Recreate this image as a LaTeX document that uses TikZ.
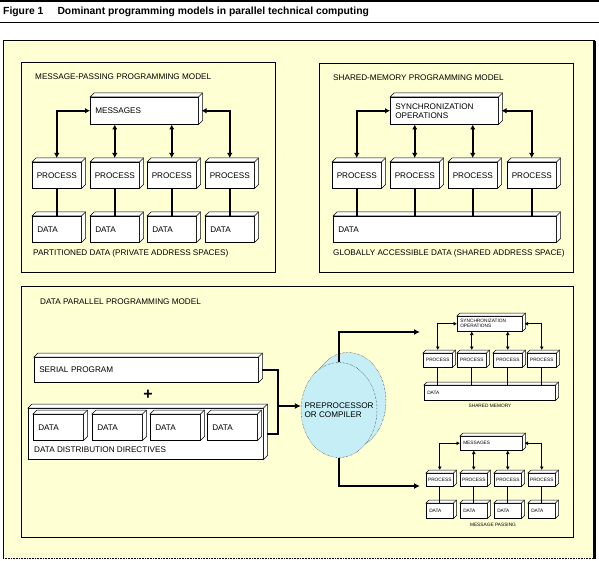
\documentclass[tikz,border=0pt]{standalone}
\usepackage{fontspec}
\setmainfont{Liberation Sans}
\usetikzlibrary{arrows.meta,shapes.geometric}
\definecolor{paper}{RGB}{255,255,212}
\definecolor{lens}{RGB}{198,238,246}
\newcommand{\lbl}{\fontsize{8.2}{9}\selectfont}
\newcommand{\tinylbl}{\fontsize{4.8}{5.2}\selectfont}
\newcommand{\cubeface}[2]{%
  \filldraw[face] (#1.north west) -- ++(#2,-#2) -- ([shift={(#2,-#2)}]#1.north east)
    -- ([shift={(#2,-#2)}]#1.south east) -- (#1.south east) -- (#1.north east) -- cycle;
  \draw[face] (#1.north east) -- ([shift={(#2,-#2)}]#1.north east);}

\begin{document}
\begin{tikzpicture}[x=1bp,y=-1bp,
  box/.style={draw,fill=white,line width=0.5bp,anchor=north west,inner xsep=5bp,inner ysep=0pt,font=\lbl},
  tbox/.style={box,inner xsep=3bp,font=\tinylbl},
  face/.style={draw,fill=white,line width=0.5bp},
  link/.style={line width=2.2bp},
  dbl/.style={link,{Latex[length=5bp,width=5.5bp]}-{Latex[length=5bp,width=5.5bp]}},
  tip/.style={link,-{Latex[length=6bp,width=6bp]}},
  tlink/.style={line width=1.4bp},
  tdbl/.style={tlink,{Latex[length=3.5bp,width=4bp]}-{Latex[length=3.5bp,width=4bp]}},
  lbltxt/.style={anchor=west,inner sep=0pt,font=\lbl},
  lens/.style={ellipse,draw,densely dotted,fill=lens,minimum width=76bp,inner sep=0pt}]
    \fill[white] (0,0) rectangle (599,561);
    \useasboundingbox (0,0) rectangle (599,561);
    \draw[line width=2bp] (0,1) -- (599,1);
    \node[anchor=west,inner sep=0pt,font=\bfseries\fontsize{10.4}{12}\selectfont] (fig) at (3,12) {Figure 1\hspace{14bp}Dominant programming models in parallel technical computing};
    \draw[line width=0.8bp] (0,22) -- (599,22);
    % frame
    \fill[paper] (3,40) rectangle (595,558);
    \draw[line width=0.6bp] (3,558) -- (3,40) -- (595,40);
    \draw[line width=0.6bp,densely dotted] (3,558) -- (594,558);
    \draw[line width=3bp] (594,41) -- (594,559);
    \draw[line width=0.6bp] (21,62) rectangle (275,272);
    \draw[line width=0.6bp] (319,63) rectangle (573,272);
    \draw[line width=0.6bp] (21,286) rectangle (573,537);
    % message passing
    \node[lbltxt] (mptitle) at (35,77) {MESSAGE-PASSING PROGRAMMING MODEL};
    \node[box,minimum width=108bp,minimum height=27bp,text width=98bp,align=left] (msg) at (90,97) {MESSAGES};
    \cubeface{msg}{4}
    \foreach \i/\x in {1/32,2/90,3/147,4/205}{
    \node[box,inner xsep=2bp,minimum width=49bp,minimum height=26bp] (mproc\i) at (\x,162) {PROCESS};
    \cubeface{mproc\i}{4}
    \node[box,minimum width=49bp,minimum height=26bp,text width=39bp,align=left] (mdata\i) at (\x,216) {DATA};
    \cubeface{mdata\i}{4}
    \draw[link] (mproc\i) -- (mdata\i);
    }
    \draw[dbl] (msg.west) -| ([yshift=4bp]mproc1.north);
    \foreach \i in {2,3}
    \draw[dbl] (msg.south -| mproc\i.north) -- ([yshift=4bp]mproc\i.north);
    \draw[dbl] ([xshift=3bp]msg.east) -| ([yshift=4bp]mproc4.north);
    \node[lbltxt] (mpcap) at (33,253) {PARTITIONED DATA (PRIVATE ADDRESS SPACES)};
    % shared memory
    \node[lbltxt] (smtitle) at (333,78) {SHARED-MEMORY PROGRAMMING MODEL};
    \node[box,minimum width=108bp,minimum height=27bp,text width=98bp,align=left] (sync) at (390,97) {SYNCHRONIZATION\\OPERATIONS};
    \cubeface{sync}{4}
    \foreach \i/\x in {1/332,2/390,3/448,4/507}{
    \node[box,inner xsep=2bp,minimum width=49bp,minimum height=26bp] (sproc\i) at (\x,162) {PROCESS};
    \cubeface{sproc\i}{4}
    }
    \node[box,minimum width=223bp,minimum height=26bp,text width=213bp,align=left] (sdata) at (333,216) {DATA};
    \cubeface{sdata}{4}
    \foreach \i in {1,...,4}
    \draw[link] (sproc\i) -- (sproc\i |- sdata.north);
    \draw[dbl] (sync.west) -| ([yshift=4bp]sproc1.north);
    \foreach \i in {2,3}
    \draw[dbl] (sync.south -| sproc\i.north) -- ([yshift=4bp]sproc\i.north);
    \draw[dbl] ([xshift=3bp]sync.east) -| ([yshift=4bp]sproc4.north);
    \node[lbltxt] (smcap) at (333,253) {GLOBALLY ACCESSIBLE DATA (SHARED ADDRESS SPACE)};
    % data parallel
    \node[lbltxt] (dptitle) at (40,302) {DATA PARALLEL PROGRAMMING MODEL};
    \node[box,minimum width=224bp,minimum height=25bp,text width=214bp,align=left] (serial) at (34,357) {SERIAL PROGRAM};
    \cubeface{serial}{4}
    \node[font=\bfseries\fontsize{16}{16}\selectfont,inner sep=0pt] (plus) at (148,395) {+};
    \node[box,minimum width=235bp,minimum height=51bp] (ddd) at (28,408) {};
    \cubeface{ddd}{4}
    \foreach \i/\x in {1/33,2/92,3/150,4/207}{
    \node[box,minimum width=50bp,minimum height=26bp,text width=40bp,align=left] (pdata\i) at (\x,414) {DATA};
    \cubeface{pdata\i}{4}
    }
    \node[lbltxt] (dddtxt) at (34,450) {DATA DISTRIBUTION DIRECTIVES};
    \coordinate (jn) at (278,406);
    \draw[link] ([xshift=3bp]serial.east) -| (jn) |- ([xshift=3bp]ddd.east);
    \node[lens,minimum height=97bp] (ppback) at (348,401) {};
    \node[lens,minimum height=95bp] (pp) at (339,410) {};
    \node[font=\lbl,align=left,inner sep=0pt] (pptxt) at (pp) {PREPROCESSOR\\OR COMPILER};
    \draw[tip] (jn) -- (jn -| pp.west);
    \coordinate (tosm) at (420,332);
    \coordinate (tomp) at (420,486);
    \draw[tip] (pp.north) |- (tosm);
    \draw[tip] (pp.south) |- (tomp);
    % small shared memory
    \node[tbox,minimum width=65bp,minimum height=15bp,text width=59bp,align=left] (tsync) at (457,316) {SYNCHRONIZATION\\OPERATIONS};
    \cubeface{tsync}{3}
    \foreach \i/\x in {1/423,2/457,3/493,4/527}{
    \node[tbox,inner xsep=1bp,minimum width=29bp,minimum height=14bp] (tsproc\i) at (\x,353) {PROCESS};
    \cubeface{tsproc\i}{3}
    }
    \node[tbox,minimum width=131bp,minimum height=15bp,text width=125bp,align=left] (tsdata) at (424,385) {DATA};
    \cubeface{tsdata}{3}
    \foreach \i in {1,...,4}
    \draw[tlink] (tsproc\i) -- (tsproc\i |- tsdata.north);
    \draw[tdbl] (tsync.west) -| ([yshift=3bp]tsproc1.north);
    \foreach \i in {2,3}
    \draw[tdbl] (tsync.south -| tsproc\i.north) -- ([yshift=3bp]tsproc\i.north);
    \draw[tdbl] ([xshift=2bp]tsync.east) -| ([yshift=3bp]tsproc4.north);
    \node[font=\tinylbl,inner sep=0pt] (tscap) at (490,406) {SHARED MEMORY};
    % small message passing
    \node[tbox,minimum width=62bp,minimum height=14bp,text width=56bp,align=left] (tmsg) at (460,436) {MESSAGES};
    \cubeface{tmsg}{3}
    \foreach \i/\x in {1/426,2/460,3/494,4/528}{
    \node[tbox,inner xsep=1bp,minimum width=27bp,minimum height=13bp] (tmproc\i) at (\x,473) {PROCESS};
    \cubeface{tmproc\i}{3}
    \node[tbox,minimum width=27bp,minimum height=15bp,text width=21bp,align=left] (tmdata\i) at (\x,503) {DATA};
    \cubeface{tmdata\i}{3}
    \draw[tlink] (tmproc\i) -- (tmdata\i);
    }
    \draw[tdbl] (tmsg.west) -| ([yshift=3bp]tmproc1.north);
    \foreach \i in {2,3}
    \draw[tdbl] (tmsg.south -| tmproc\i.north) -- ([yshift=3bp]tmproc\i.north);
    \draw[tdbl] ([xshift=2bp]tmsg.east) -| ([yshift=3bp]tmproc4.north);
    \node[font=\tinylbl,inner sep=0pt] (tmcap) at (493,525) {MESSAGE PASSING};
\end{tikzpicture}
\end{document}
